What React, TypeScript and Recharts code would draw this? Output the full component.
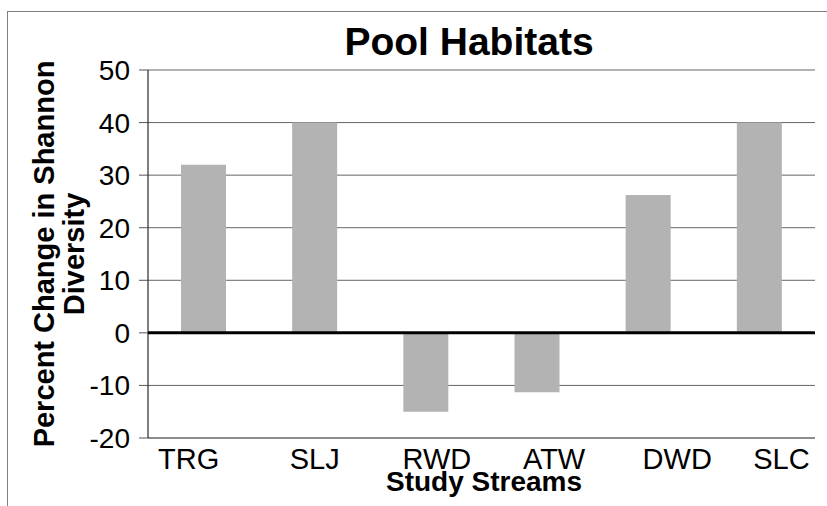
import { BarChart, Bar, XAxis, YAxis, CartesianGrid, ReferenceLine } from 'recharts'

// Percent change in Shannon diversity per study stream (pool habitats)
const streams = ['TRG', 'SLJ', 'RWD', 'ATW', 'DWD', 'SLC']
const changes = [32, 40, -15, -11.3, 26.2, 40]
const yTicks = [-20, -10, 0, 10, 20, 30, 40, 50]

// the original's category labels sit a little off their bars
const TICK_NUDGE = [-15, 0, 11, 17, 29, 22]

const FONT = '"Liberation Sans", Arial, sans-serif'

const data = streams.map((name, i) => ({ name, value: changes[i] }))

function StreamTick(props: any) {
  const { x, y, payload, index } = props
  return (
    <text
      x={x + (TICK_NUDGE[index] ?? 0)}
      y={y}
      dy="0.71em"
      textAnchor="middle"
      fontSize={29}
      fontFamily={FONT}
      fill="#000"
    >
      {payload.value}
    </text>
  )
}

export default function App() {
  return (
    <div
      style={{
        position: 'absolute',
        left: 0,
        top: 0,
        width: 827,
        height: 506,
        overflow: 'hidden',
        background: '#fff',
        fontFamily: FONT,
      }}
    >
      {/* outer chart frame, runs off the right and bottom edges */}
      <div
        style={{
          position: 'absolute',
          left: 7,
          top: 11,
          width: 840,
          height: 520,
          border: '1px solid #7f7f7f',
        }}
      />
      <div style={{ position: 'absolute', left: 0, top: 0 }}>
        <BarChart
          width={827}
          height={506}
          data={data}
          margin={{ top: 70, right: 12, left: 0, bottom: 0 }}
        >
          <CartesianGrid vertical={false} stroke="#666" />
          <XAxis
            dataKey="name"
            height={68}
            axisLine={{ stroke: '#666' }}
            tickLine={false}
            tickSize={0}
            tickMargin={10}
            interval={0}
            tick={<StreamTick />}
          />
          <YAxis
            width={148}
            domain={[-20, 50]}
            ticks={yTicks}
            interval={0}
            axisLine={{ stroke: '#000' }}
            tickLine={{ stroke: '#555' }}
            tickSize={9}
            tickMargin={9}
            tick={{ fontSize: 28, fill: '#000', fontFamily: FONT }}
          />
          <YAxis
            yAxisId="frame"
            orientation="right"
            width={0}
            tick={false}
            tickLine={false}
            axisLine={{ stroke: '#666' }}
          />
          <Bar dataKey="value" fill="#b3b3b3" barSize={45} isAnimationActive={false} />
          <ReferenceLine y={0} stroke="#000" strokeWidth={3} />
        </BarChart>
      </div>
      <svg
        width={827}
        height={506}
        style={{ position: 'absolute', left: 0, top: 0, pointerEvents: 'none' }}
      >
        <text x={469} y={55} textAnchor="middle" fontSize={39} fontWeight="bold" fontFamily={FONT}>
          Pool Habitats
        </text>
        <text x={484} y={491} textAnchor="middle" fontSize={28} fontWeight="bold" fontFamily={FONT}>
          Study Streams
        </text>
        <g transform="rotate(-90)" fontSize={29} fontWeight="bold" fontFamily={FONT}>
          <text x={-254} y={54} textAnchor="middle">Percent Change in Shannon</text>
          <text x={-254} y={84} textAnchor="middle">Diversity</text>
        </g>
      </svg>
    </div>
  )
}
